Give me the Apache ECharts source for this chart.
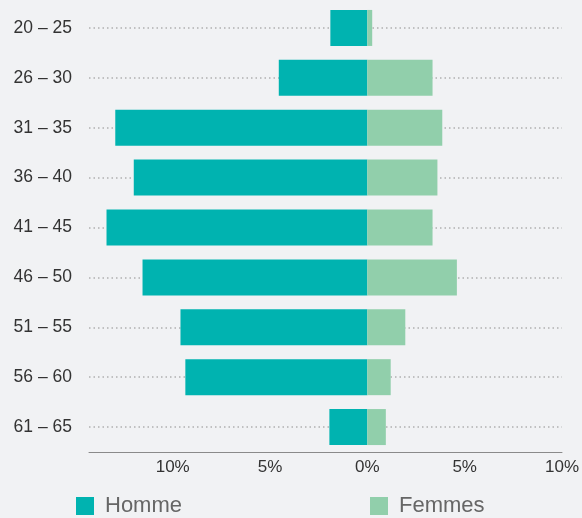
<!DOCTYPE html>
<html>
<head>
<meta charset="utf-8">
<style>
  html, body { margin: 0; padding: 0; background: #f1f2f4; }
  #chart { width: 582px; height: 518px; }
</style>
<script src="https://cdn.jsdelivr.net/npm/echarts@6/dist/echarts.min.js"></script>
</head>
<body>
<div id="chart"></div>
<script>
// age groups, top to bottom
const ageGroups = ['20 – 25', '26 – 30', '31 – 35', '36 – 40', '41 – 45', '46 – 50', '51 – 55', '56 – 60', '61 – 65']
// share in %, men drawn to the left
const homme = [1.9, 4.55, 12.95, 12.0, 13.4, 11.55, 9.6, 9.35, 1.95]
const femmes = [0.25, 3.35, 3.85, 3.6, 3.35, 4.6, 1.95, 1.2, 0.95]
const xTicks = [-10, -5, 0, 5, 10]

const chart = echarts.init(document.getElementById('chart'))
const font = '"Liberation Sans", Arial, sans-serif'

const legendBase = {
  orient: 'horizontal',
  padding: 0,
  icon: 'rect',
  itemWidth: 18,
  itemHeight: 18,
  top: 495,
  textStyle: { fontFamily: font, fontSize: 22, color: '#666', padding: [0, 0, 0, 6] }
}

chart.setOption({
  backgroundColor: '#f1f2f4',
  animation: false,
  grid: { left: 89, right: 16, top: 3, bottom: 66, containLabel: false },
  legend: [
    Object.assign({}, legendBase, { left: 76, data: ['Homme'] }),
    Object.assign({}, legendBase, { left: 370, data: ['Femmes'] })
  ],
  xAxis: {
    type: 'value',
    min: -14.3,
    max: 10,
    axisLine: { show: true, lineStyle: { color: '#8a8a8a', width: 1 } },
    axisTick: { show: false },
    splitLine: { show: false },
    axisLabel: {
      customValues: xTicks,
      margin: 7,
      fontFamily: font,
      fontSize: 17,
      color: '#333',
      formatter: v => Math.abs(v) + '%'
    }
  },
  yAxis: {
    type: 'category',
    inverse: true,
    data: ageGroups,
    axisLine: { show: false },
    axisTick: { show: false },
    splitLine: { show: false },
    axisLabel: { margin: 17, fontFamily: font, fontSize: 17.5, color: '#333' }
  },
  series: [
    {
      name: 'Homme',
      type: 'bar',
      stack: 'pop',
      barWidth: 36,
      data: homme.map(v => -v),
      itemStyle: { color: '#00b3b0' },
      markLine: {
        silent: true,
        z: 1,
        symbol: 'none',
        label: { show: false },
        lineStyle: { color: '#b0b0b0', width: 1.5, type: [1.5, 3] },
        data: ageGroups.map(c => ({ yAxis: c }))
      }
    },
    {
      name: 'Femmes',
      type: 'bar',
      stack: 'pop',
      barWidth: 36,
      data: femmes,
      itemStyle: { color: '#91cfab' }
    }
  ]
})
</script>
</body>
</html>
